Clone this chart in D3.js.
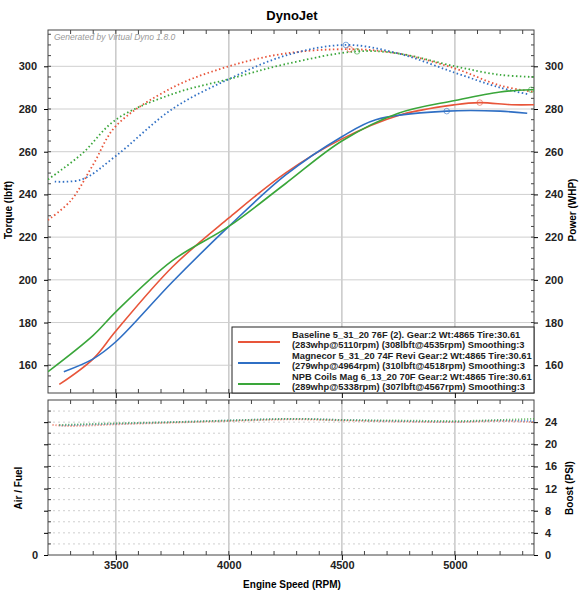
<!DOCTYPE html>
<html><head><meta charset="utf-8">
<script src="https://cdn.jsdelivr.net/npm/d3@7"></script>
<style>
body{margin:0;background:#fff;font-family:"Liberation Sans",Arial,sans-serif}
text{font-family:"Liberation Sans",Arial,sans-serif}
</style></head><body>
<svg id="c" width="585" height="600"></svg>
<script>
const runs = ["Baseline","Magnecor","NPB"];
const colors = ["#e8553a","#2f6fc4","#3aa63a"];
const legendLines = [
  ["Baseline 5_31_20 76F (2). Gear:2 Wt:4865 Tire:30.61","(283whp@5110rpm) (308lbft@4535rpm) Smoothing:3"],
  ["Magnecor 5_31_20 74F Revi Gear:2 Wt:4865 Tire:30.61","(279whp@4964rpm) (310lbft@4518rpm) Smoothing:3"],
  ["NPB Coils Mag 6_13_20 70F Gear:2 Wt:4865 Tire:30.61","(289whp@5338rpm) (307lbft@4567rpm) Smoothing:3"]
];
// power (solid) [rpm, whp]
const powerBaseline = [[3250,151],[3400,163],[3500,176],[3750,206],[4000,229],[4250,250],[4500,266],[4750,277],[5000,282],[5110,283],[5250,282],[5350,282]];
const powerMagnecor = [[3270,157],[3400,163],[3500,171],[3750,199],[4000,225],[4250,249],[4500,267],[4650,275],[4964,279],[5200,279],[5320,278]];
const powerNPB = [[3200,157],[3400,174],[3500,185],[3750,209],[4000,225],[4250,245],[4500,265],[4750,278],[5000,284],[5200,288],[5338,289],[5350,289]];
// torque (dotted) [rpm, lbft]
const torqueBaseline = [[3200,228],[3300,237],[3400,254],[3500,272],[3750,290],[4000,300],[4250,306],[4535,308],[4750,306],[5000,299],[5200,291],[5350,288]];
const torqueMagnecor = [[3230,246],[3350,247],[3500,258],[3750,280],[4000,294],[4250,305],[4518,310],[4750,306],[5000,297],[5200,290],[5320,287]];
const torqueNPB = [[3200,247],[3350,259],[3500,275],[3750,287],[4000,294],[4250,301],[4567,307],[4750,306],[5000,300],[5200,296],[5350,295]];
const peakPower = [[5110,283],[4964,279],[5338,289]];
const peakTorque = [[4535,308],[4518,310],[4567,307]];
// lower panel [rpm, value]
const lowerBaseline = [[3220,23.5],[3300,23.3],[3500,23.6],[3750,23.9],[4000,24.2],[4300,24.5],[4500,24.3],[4750,24.1],[5000,24.0],[5200,24.2],[5350,24.0]];
const lowerMagnecor = [[3250,23.4],[3500,23.7],[3750,24.0],[4000,24.3],[4300,24.6],[4500,24.4],[4750,24.2],[5000,24.1],[5200,24.3],[5350,24.2]];
const lowerNPB = [[3250,23.5],[3500,23.8],[3750,24.0],[4000,24.3],[4300,24.6],[4500,24.4],[4750,24.3],[5000,24.2],[5200,24.4],[5350,24.6]];
const xTicks = [3500,4000,4500,5000];
const yTicks = [160,180,200,220,240,260,280,300];
const boostTicks = [0,4,8,12,16,20,24];

const svg = d3.select("#c");
const L = 48, R = 534, T1 = 30, B1 = 393, T2 = 400, B2 = 555;
const x = d3.scaleLinear().domain([3200,5350]).range([L,R]);
const y = d3.scaleLinear().domain([147,317]).range([B1,T1]);
const y2 = d3.scaleLinear().domain([0,28]).range([B2,T2]);

svg.append("text").attr("x",292).attr("y",20).attr("text-anchor","middle")
  .attr("font-size",13).attr("font-weight","bold").text("DynoJet");

function panel(top,bot,yy,hticks,dotted){
  const g = svg.append("g");
  g.append("rect").attr("x",L).attr("y",top).attr("width",R-L).attr("height",bot-top).attr("fill","#fff");
  g.selectAll(".v").data(xTicks).join("line")
    .attr("x1",d=>x(d)).attr("x2",d=>x(d)).attr("y1",top).attr("y2",bot)
    .attr("stroke","#c8c8c8").attr("stroke-width",1.5);
  g.selectAll(".h").data(hticks).join("line")
    .attr("x1",L).attr("x2",R).attr("y1",d=>yy(d)).attr("y2",d=>yy(d))
    .attr("stroke","#cfcfcf").attr("stroke-dasharray",dotted?"2,3":null);
  g.append("rect").attr("x",L).attr("y",top).attr("width",R-L).attr("height",bot-top)
    .attr("fill","none").attr("stroke","#444");
  return g;
}
panel(T1,B1,y,yTicks,false);
panel(T2,B2,y2,d3.range(2,28,2),true);

function axes(yy,ticks,minor,leftLabels){
  const ax = d3.axisLeft(yy).tickValues(ticks).tickSize(4).tickFormat(leftLabels?d3.format("d"):"");
  const g = svg.append("g").attr("transform",`translate(${L},0)`).call(ax);
  const ar = d3.axisRight(yy).tickValues(ticks).tickSize(4).tickFormat(d3.format("d"));
  const gr = svg.append("g").attr("transform",`translate(${R},0)`).call(ar);
  [g,gr].forEach(s=>{s.select(".domain").remove();
    s.selectAll("text").attr("font-size",11).attr("font-weight","bold").attr("fill","#222");});
  g.selectAll("text").attr("dx",-4);
  gr.selectAll("text").attr("dx",4);
  const mi = svg.append("g");
  mi.selectAll("line").data(minor).join("line")
    .attr("x1",L).attr("x2",L+3).attr("y1",d=>yy(d)).attr("y2",d=>yy(d)).attr("stroke","#444");
  mi.append("g").selectAll("line").data(minor).join("line")
    .attr("x1",R).attr("x2",R-3).attr("y1",d=>yy(d)).attr("y2",d=>yy(d)).attr("stroke","#444");
}
axes(y,yTicks,d3.range(150,317,5),true);
axes(y2,boostTicks,d3.range(2,28,2),false);
svg.append("text").attr("x",L-10).attr("y",y2(0)+4).attr("text-anchor","end")
  .attr("font-size",11).attr("font-weight","bold").attr("fill","#222").text("0");

// x axes
[B1,B2].forEach((b,i)=>{
  const g = svg.append("g").attr("transform",`translate(0,${b})`)
    .call(d3.axisBottom(x).tickValues(xTicks).tickSize(5).tickFormat(i?d3.format("d"):""));
  g.select(".domain").remove();
  g.selectAll("text").attr("font-size",11).attr("font-weight","bold").attr("fill","#222").attr("dy",6);
  svg.append("g").selectAll("line").data(d3.range(3300,5350,100)).join("line")
    .attr("x1",d=>x(d)).attr("x2",d=>x(d)).attr("y1",b).attr("y2",b-4).attr("stroke","#444");
  svg.append("g").selectAll("line").data(d3.range(3300,5350,100)).join("line")
    .attr("x1",d=>x(d)).attr("x2",d=>x(d)).attr("y1",i?T2:T1).attr("y2",(i?T2:T1)+4).attr("stroke","#444");
});

svg.append("text").attr("x",54).attr("y",40).attr("font-size",8.5).attr("font-style","italic")
  .attr("fill","#999").text("Generated by Virtual Dyno 1.8.0");

const lineT = d3.line().x(d=>x(d[0])).y(d=>y(d[1])).curve(d3.curveCatmullRom.alpha(0.5));
svg.append("clipPath").attr("id","cl").append("rect").attr("x",L).attr("y",T1).attr("width",R-L).attr("height",B1-T1);
const plot = svg.append("g").attr("clip-path","url(#cl)");
[torqueBaseline,torqueMagnecor,torqueNPB].forEach((d,i)=>
  plot.append("path").attr("d",lineT(d)).attr("fill","none").attr("stroke",colors[i])
    .attr("stroke-width",1.8).attr("stroke-dasharray","1.5,2.5"));
[powerBaseline,powerMagnecor,powerNPB].forEach((d,i)=>
  plot.append("path").attr("d",lineT(d)).attr("fill","none").attr("stroke",colors[i]).attr("stroke-width",1.6));
[peakPower,peakTorque].forEach(arr=>arr.forEach((d,i)=>
  plot.append("circle").attr("cx",x(d[0])).attr("cy",y(d[1])).attr("r",2.8)
    .attr("fill","none").attr("stroke",colors[i]).attr("opacity",0.6)));

const line2 = d3.line().x(d=>x(d[0])).y(d=>y2(d[1])).curve(d3.curveMonotoneX);
[lowerBaseline,lowerMagnecor,lowerNPB].forEach((d,i)=>
  svg.append("path").attr("d",line2(d)).attr("fill","none").attr("stroke",colors[i])
    .attr("stroke-width",1.8).attr("stroke-dasharray","1,2").attr("opacity",0.8));

// legend
const lg = svg.append("g");
lg.append("rect").attr("x",232).attr("y",327).attr("width",302).attr("height",66)
  .attr("fill","#fff").attr("stroke","#222");
runs.forEach((r,i)=>{
  const yy = 338+i*21;
  lg.append("line").attr("x1",238).attr("x2",280).attr("y1",yy+4).attr("y2",yy+4)
    .attr("stroke",colors[i]).attr("stroke-width",2);
  legendLines[i].forEach((t,j)=>lg.append("text").attr("x",292).attr("y",yy+j*10)
    .attr("font-size",9.3).attr("font-weight","bold").attr("fill","#222").text(t));
});

// axis titles
const title = (tx,ty,rot,t)=>svg.append("text").attr("transform",`translate(${tx},${ty}) rotate(${rot})`)
  .attr("text-anchor","middle").attr("font-size",10).attr("font-weight","bold").text(t);
title(12,210,-90,"Torque (lbft)");
title(576,210,-90,"Power (WHP)");
title(22,488,-90,"Air / Fuel");
title(573,488,-90,"Boost (PSI)");
title(292,588,0,"Engine Speed (RPM)");
</script></body></html>
